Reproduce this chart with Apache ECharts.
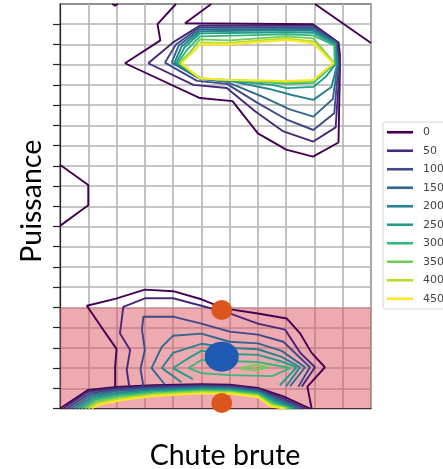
<!DOCTYPE html>
<html>
<head>
<meta charset="utf-8">
<script src="https://cdn.jsdelivr.net/npm/echarts@6/dist/echarts.min.js"></script>
<style>
  html, body { margin: 0; padding: 0; background: #fff; }
  #main { width: 443px; height: 469px; }
</style>
</head>
<body>
<div id="main"></div>
<script>
// contour levels and viridis colours
const levels = ['0', '50', '100', '150', '200', '250', '300', '350', '400', '450'];
const levelColors = ['#440154', '#482878', '#3e4989', '#31688e', '#26828e',
                     '#1f9e89', '#35b779', '#6ece58', '#b5de2b', '#fde725'];

// grid cells (no tick labels in the picture)
const xCells = 11;
const yCells = 20;
const yTicks = [0, 1, 2, 3, 4, 5, 6, 7, 8, 9, 10, 11, 12, 13, 14, 15, 16, 17, 18, 19];

// upper blob, outer (0) to inner (450)
const topContours = [
  [[4.1, 20], [3.45, 19.0], [3.55, 18.2], [2.3, 17.07], [4.95, 15.35], [6.1, 15.2], [7.0, 13.6], [8.0, 12.8], [8.95, 12.45], [9.85, 13.15], [9.9, 16.75], [9.9, 17.5], [9.85, 18.1], [8.95, 19.0], [4.42, 19.05], [5.35, 20]],
  [[3.12, 17.07], [4.0, 18.1], [4.95, 18.93], [8.96, 18.93], [9.8, 18.12], [9.9, 17.07], [9.75, 13.9], [8.96, 13.2], [7.9, 13.7], [6.9, 14.7], [5.9, 15.85], [4.72, 16.0], [3.12, 17.07]],
  [[3.71, 17.1], [4.1, 18.0], [4.95, 18.85], [8.96, 18.85], [9.78, 18.1], [9.85, 17.0], [9.7, 14.6], [8.96, 13.77], [8.0, 14.3], [7.0, 15.1], [5.9, 16.05], [4.85, 16.2], [3.71, 17.1]],
  [[3.95, 17.1], [4.2, 17.95], [4.95, 18.75], [8.96, 18.77], [9.76, 18.08], [9.82, 17.0], [9.65, 15.3], [8.96, 14.43], [8.1, 14.8], [7.2, 15.4], [5.9, 16.15], [4.95, 16.3], [3.95, 17.1]],
  [[4.05, 17.1], [4.3, 17.9], [4.95, 18.65], [8.0, 18.7], [8.96, 18.68], [9.74, 18.05], [9.8, 17.0], [9.6, 15.9], [8.96, 15.26], [8.2, 15.5], [7.4, 15.8], [6.0, 16.2], [5.0, 16.3], [4.05, 17.1]],
  [[4.12, 17.1], [4.4, 17.85], [4.95, 18.55], [8.0, 18.6], [8.96, 18.58], [9.72, 18.0], [9.76, 17.05], [9.4, 16.4], [8.96, 15.9], [8.02, 15.84], [7.5, 16.0], [6.0, 16.2], [5.0, 16.3], [4.12, 17.1]],
  [[4.18, 17.1], [4.5, 17.75], [4.95, 18.4], [8.0, 18.5], [8.96, 18.45], [9.7, 17.95], [9.72, 17.05], [8.96, 16.1], [8.02, 16.05], [6.0, 16.25], [5.0, 16.3], [4.18, 17.1]],
  [[4.22, 17.08], [4.6, 17.6], [4.95, 18.25], [6.0, 18.2], [8.02, 18.4], [8.96, 18.3], [9.69, 17.1], [8.96, 16.18], [8.02, 16.12], [5.9, 16.25], [4.95, 16.32], [4.22, 17.08]],
  [[4.26, 17.07], [4.8, 17.75], [5.0, 18.1], [5.9, 18.08], [8.02, 18.3], [8.96, 18.15], [9.68, 17.08], [8.96, 16.22], [8.02, 16.17], [5.9, 16.25], [4.95, 16.33], [4.26, 17.07]],
  [[4.3, 17.07], [4.95, 18.0], [5.9, 18.0], [8.02, 18.22], [8.96, 18.06], [9.67, 17.07], [8.96, 16.25], [8.02, 16.2], [5.9, 16.25], [4.95, 16.33], [4.3, 17.07]]
];

// arc hugging the bottom edge, outer (0) to inner (450)
const bottomArcs = [
  [[0, 0], [1, 0.92], [2, 1.07], [3.3, 1.15], [5, 1.2], [6, 1.18], [7, 1.02], [7.9, 0.6], [8.84, 0]],
  [[0.13, 0], [1, 0.84], [2, 1.0], [3.3, 1.1], [5, 1.15], [6, 1.13], [7, 0.97], [7.85, 0.53], [8.7, 0]],
  [[0.26, 0], [1.05, 0.76], [2, 0.93], [3.3, 1.04], [5, 1.1], [6, 1.08], [7, 0.92], [7.8, 0.47], [8.57, 0]],
  [[0.39, 0], [1.1, 0.68], [2, 0.86], [3.3, 0.98], [5, 1.05], [6, 1.03], [7, 0.87], [7.75, 0.41], [8.45, 0]],
  [[0.52, 0], [1.15, 0.6], [2.05, 0.78], [3.3, 0.92], [5, 1.0], [6, 0.98], [7, 0.82], [7.7, 0.35], [8.35, 0]],
  [[0.65, 0], [1.2, 0.52], [2.05, 0.71], [3.3, 0.86], [5, 0.95], [6, 0.93], [7, 0.77], [7.65, 0.3], [8.25, 0]],
  [[0.77, 0], [1.25, 0.44], [2.1, 0.63], [3.3, 0.8], [5, 0.9], [6, 0.88], [7, 0.72], [7.6, 0.25], [8.16, 0]],
  [[0.89, 0], [1.3, 0.36], [2.1, 0.56], [3.3, 0.74], [5, 0.85], [6, 0.83], [7, 0.67], [7.55, 0.2], [8.08, 0]],
  [[1.0, 0], [1.35, 0.28], [2.15, 0.49], [3.3, 0.68], [5, 0.8], [6, 0.78], [7, 0.62], [7.5, 0.15], [8.0, 0]],
  [[1.12, 0], [1.4, 0.2], [2.2, 0.42], [3.3, 0.62], [5, 0.75], [6, 0.73], [7, 0.57], [7.45, 0.1], [7.92, 0]]
];

// nested loops above the arc, outer (0) to inner (350)
const bottomLoops = [
  [[1.95, 1.07], [1.95, 2.07], [2.0, 2.95], [1.45, 4.05], [0.95, 5.08], [1.95, 5.42], [3.0, 5.88], [4.0, 5.8], [5.0, 5.4], [5.8, 4.95], [7.0, 4.7], [8.02, 4.45], [8.5, 3.7], [8.9, 2.75], [9.37, 2.04], [8.75, 1.08], [8.9, 0]],
  [[2.45, 1.1], [2.36, 1.9], [2.48, 2.89], [2.12, 3.72], [2.24, 5.03], [3.0, 5.45], [4.0, 5.45], [5.0, 5.08], [6.0, 4.7], [7.0, 4.2], [7.96, 3.9], [8.5, 2.75], [9.02, 2.04], [8.55, 1.08]],
  [[2.95, 1.1], [2.85, 1.95], [3.0, 2.9], [2.9, 3.9], [2.95, 4.54], [4.0, 4.54], [5.0, 4.2], [6.0, 3.8], [7.0, 3.65], [7.9, 3.3], [8.84, 2.04], [8.43, 1.08]],
  [[3.7, 1.2], [3.24, 2.0], [3.6, 3.05], [4.0, 3.6], [5.0, 3.7], [6.0, 3.3], [7.0, 3.22], [7.84, 2.85], [8.67, 2.04], [8.14, 1.1]],
  [[4.3, 1.3], [3.6, 2.0], [4.0, 2.75], [5.0, 3.2], [6.0, 3.0], [7.0, 2.93], [7.84, 2.55], [8.49, 2.04], [8.0, 1.1]],
  [[4.7, 1.45], [4.0, 2.0], [4.5, 2.45], [5.0, 2.85], [6.0, 2.7], [7.0, 2.65], [7.78, 2.35], [8.37, 2.04], [7.78, 1.15]],
  [[5.0, 1.75], [4.55, 2.0], [5.0, 2.4], [6.0, 2.35], [7.0, 2.3], [8.14, 2.0], [7.5, 1.6], [6.0, 1.65], [5.0, 1.75]],
  [[6.37, 1.99], [6.9, 2.15], [7.37, 2.04], [6.9, 1.88], [6.37, 1.99]]
];

// lone 0-level pieces
const edgeContours = [
  [[9.02, 20], [11, 18.07]],
  [[0, 12.05], [1, 11.05], [1, 10.05], [0, 9.03]],
  [[1.85, 20], [1.95, 19.92], [2.05, 20]]
];

const shadedBand = [0, 5];
const orangeDots = [[5.72, 4.87], [5.72, 0.27]];
const blueDot = [[5.72, 2.56]];

const series = [];
function addLines(list, levelOf) {
  list.forEach((pts, i) => {
    const lv = levelOf(i);
    series.push({
      name: levels[lv],
      type: 'line',
      data: pts,
      symbol: 'none',
      silent: true,
      z: 2,
      lineStyle: { color: levelColors[lv], width: 1.9 },
      itemStyle: { color: levelColors[lv] }
    });
  });
}
addLines(edgeContours, () => 0);
addLines(topContours, i => i);
addLines(bottomArcs, i => i);
addLines(bottomLoops, i => i);

series.push({
  type: 'line',
  data: [],
  z: 5,
  silent: true,
  markArea: {
    silent: true,
    itemStyle: { color: 'rgba(218, 78, 92, 0.48)' },
    data: [[{ coord: [0, shadedBand[0]] }, { coord: [xCells, shadedBand[1]] }]]
  }
});
series.push({
  type: 'scatter',
  data: orangeDots,
  symbolSize: [21, 20],
  z: 10,
  itemStyle: { color: '#da561c', opacity: 1 }
});
series.push({
  type: 'scatter',
  data: blueDot,
  symbolSize: [34, 30],
  z: 10,
  itemStyle: { color: '#1f5bb3', opacity: 1 }
});

const chart = echarts.init(document.getElementById('main'));
chart.setOption({
  animation: false,
  grid: {
    left: 60, top: 4, width: 311, height: 404.5,
    outerBoundsMode: 'none',
    show: true, borderColor: '#222', borderWidth: 1.2, backgroundColor: '#fff'
  },
  legend: {
    orient: 'vertical',
    left: 383, top: 122,
    data: levels,
    icon: 'rect',
    itemWidth: 26, itemHeight: 2.6, itemGap: 0,
    padding: [1, 6, 1, 4],
    borderColor: '#d6d6d6', borderWidth: 1, borderRadius: 3,
    backgroundColor: '#fff',
    textStyle: { fontFamily: 'DejaVu Sans', fontSize: 11, lineHeight: 18.5, color: '#444', padding: [0, 0, 0, 5] }
  },
  xAxis: {
    type: 'value', min: 0, max: xCells, interval: 1,
    name: 'Chute brute', nameLocation: 'middle', nameGap: 33,
    nameTextStyle: { fontFamily: 'Lato', fontSize: 28.5, color: '#000', padding: [0, 0, 0, 19] },
    axisLine: { show: true, lineStyle: { color: '#222', width: 1.2 } },
    axisTick: { show: false },
    axisLabel: { show: false },
    splitLine: { show: true, lineStyle: { color: '#b3b3b3', width: 1.6 } }
  },
  yAxis: {
    type: 'value', min: 0, max: yCells, interval: 1,
    name: 'Puissance', nameLocation: 'middle', nameGap: 13.5, nameRotate: 90,
    nameTextStyle: { fontFamily: 'Lato', fontSize: 28.5, color: '#000', padding: [0, 0, 0, 10] },
    axisLine: { show: true, lineStyle: { color: '#222', width: 1.2 } },
    axisTick: { show: true, length: 7, customValues: yTicks, lineStyle: { color: '#222', width: 1.2 } },
    axisLabel: { show: false },
    splitLine: { show: true, lineStyle: { color: '#b3b3b3', width: 1.6 } }
  },
  series: series
});
</script>
</body>
</html>
